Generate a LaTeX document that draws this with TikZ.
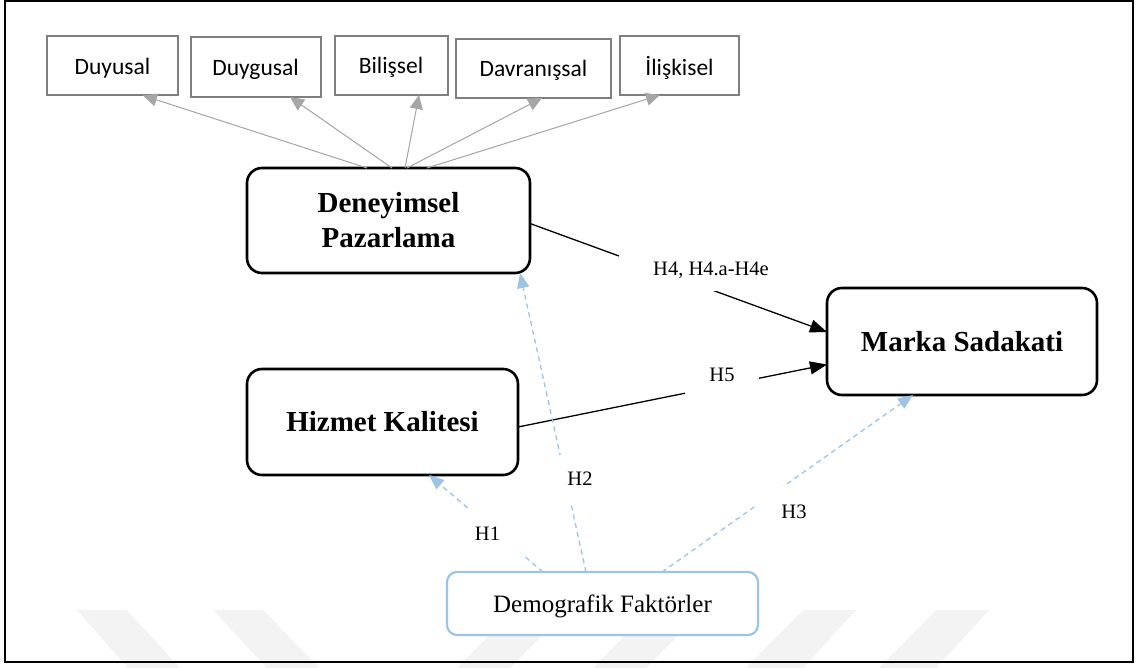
\documentclass[tikz,border=0pt]{standalone}
\usepackage{fontspec}
\setmainfont{Liberation Serif}
\newfontfamily\calibrifont{Carlito}
\usetikzlibrary{arrows.meta}

\definecolor{boxgray}{HTML}{7F7F7F}
\definecolor{linkgray}{HTML}{A6A6A6}
\definecolor{demoblue}{HTML}{9DC3E6}
\definecolor{markgray}{HTML}{F3F3F3}

\tikzset{
  dimbox/.style={draw=boxgray, line width=2pt, fill=white, inner sep=0pt, outer sep=0pt,
    text depth=0pt, font=\calibrifont\fontsize{23.5}{28}\selectfont},
  mainbox/.style={draw=black, line width=2.6pt, rounded corners=15pt, fill=white,
    inner sep=0pt, outer sep=0pt, align=center, font=\bfseries\fontsize{29}{35}\selectfont},
  demobox/.style={draw=demoblue, line width=2.2pt, rounded corners=10pt, fill=white,
    inner sep=0pt, outer sep=0pt, text depth=0pt, font=\fontsize{25}{30}\selectfont},
  hyplabel/.style={fill=white, inner sep=0pt, outer sep=0pt, text depth=0pt,
    font=\fontsize{20.5}{24}\selectfont},
  dimlink/.style={draw=linkgray, line width=1pt, -{Triangle[length=14pt,width=13pt]}, fill=linkgray},
  effect/.style={draw=black, line width=1.3pt, -{Triangle[length=17pt,width=13pt]}},
  demolink/.style={draw=demoblue, line width=1.3pt, dash pattern=on 5pt off 4pt,
    -{Triangle[length=15pt,width=12pt]}},
  markband/.style={fill=markgray, draw=none},
}

\begin{document}
\begin{tikzpicture}[x=1pt, y=-1pt]
\useasboundingbox (0,0) rectangle (1136,668);

% faint background bands
\fill[markband] (77,610) -- (127,610) -- (180,668) -- (128,668) -- cycle;
\fill[markband] (213,610) -- (263,610) -- (320,668) -- (267,668) -- cycle;
\fill[markband] (514,610) -- (567,610) -- (510,668) -- (457,668) -- cycle;
\fill[markband] (650,610) -- (703,610) -- (646,668) -- (593,668) -- cycle;
\fill[markband] (803,610) -- (856,610) -- (803,668) -- (746,668) -- cycle;
\fill[markband] (936,610) -- (989,610) -- (936,668) -- (879,668) -- cycle;

% frame
\draw[line width=2.4pt] (5,1.2) rectangle (1133,662);

% dimension boxes
\node[dimbox, minimum width=131pt, minimum height=59pt] (s1) at (112.5,66) {Duyusal};
\node[dimbox, minimum width=130pt, minimum height=60pt] (s2) at (255.5,67) {Duygusal};
\node[dimbox, minimum width=113pt, minimum height=59pt] (s3) at (391,65.5) {Bilişsel};
\node[dimbox, minimum width=155pt, minimum height=59pt] (s4) at (533.5,68.5) {Davranışsal};
\node[dimbox, minimum width=119pt, minimum height=59pt] (s5) at (679.5,65.5) {İlişkisel};

% main constructs
\node[mainbox, minimum width=283pt, minimum height=105pt] (dp) at (388.5,220.5) {Deneyimsel\\Pazarlama};
\node[mainbox, minimum width=271pt, minimum height=106pt] (hk) at (382.5,422) {Hizmet Kalitesi};
\node[mainbox, minimum width=270pt, minimum height=107pt] (ms) at (962,341.5) {Marka Sadakati};
\node[demobox, minimum width=311pt, minimum height=63pt] (df) at (602.5,603.5) {Demografik Faktörler};

% dimensions of experiential marketing
\draw[dimlink] ([xshift=-21.5pt]dp.north) -- ([xshift=30.5pt]s1.south);
\draw[dimlink] ([xshift=3.5pt]dp.north) -- ([xshift=34.5pt]s2.south);
\draw[dimlink] ([xshift=16.5pt]dp.north) -- ([xshift=28pt]s3.south);
\draw[dimlink] ([xshift=18.5pt]dp.north) -- ([xshift=8.5pt]s4.south);
\draw[dimlink] ([xshift=38.5pt]dp.north) -- ([xshift=-19.5pt]s5.south);

% direct effects
\draw[effect] ([yshift=-3pt]dp.east) -- ([yshift=9.5pt]ms.west);
\draw[effect] ([yshift=-5pt]hk.east) -- ([yshift=-23pt]ms.west);

% demographic effects
\draw[demolink] ([xshift=-59.5pt]df.north) -- ([xshift=46.5pt]hk.south);
\draw[demolink] ([xshift=-16.5pt]df.north) -- ([xshift=131.5pt]dp.south);
\draw[demolink] ([xshift=59.5pt]df.north) -- ([xshift=-49pt]ms.south);

% hypothesis labels
\node[hyplabel, minimum width=184pt, minimum height=44pt] (h4) at (711,269) {H4, H4.a-H4e};
\node[hyplabel, minimum width=74pt, minimum height=40pt] (h5) at (722,375) {H5};
\node[hyplabel, minimum width=75pt, minimum height=50pt] (h1) at (487.5,534) {H1};
\node[hyplabel, minimum width=75pt, minimum height=48pt] (h2) at (580,479) {H2};
\node[hyplabel, minimum width=75pt, minimum height=52pt] (h3) at (794,512) {H3};
\end{tikzpicture}
\end{document}
